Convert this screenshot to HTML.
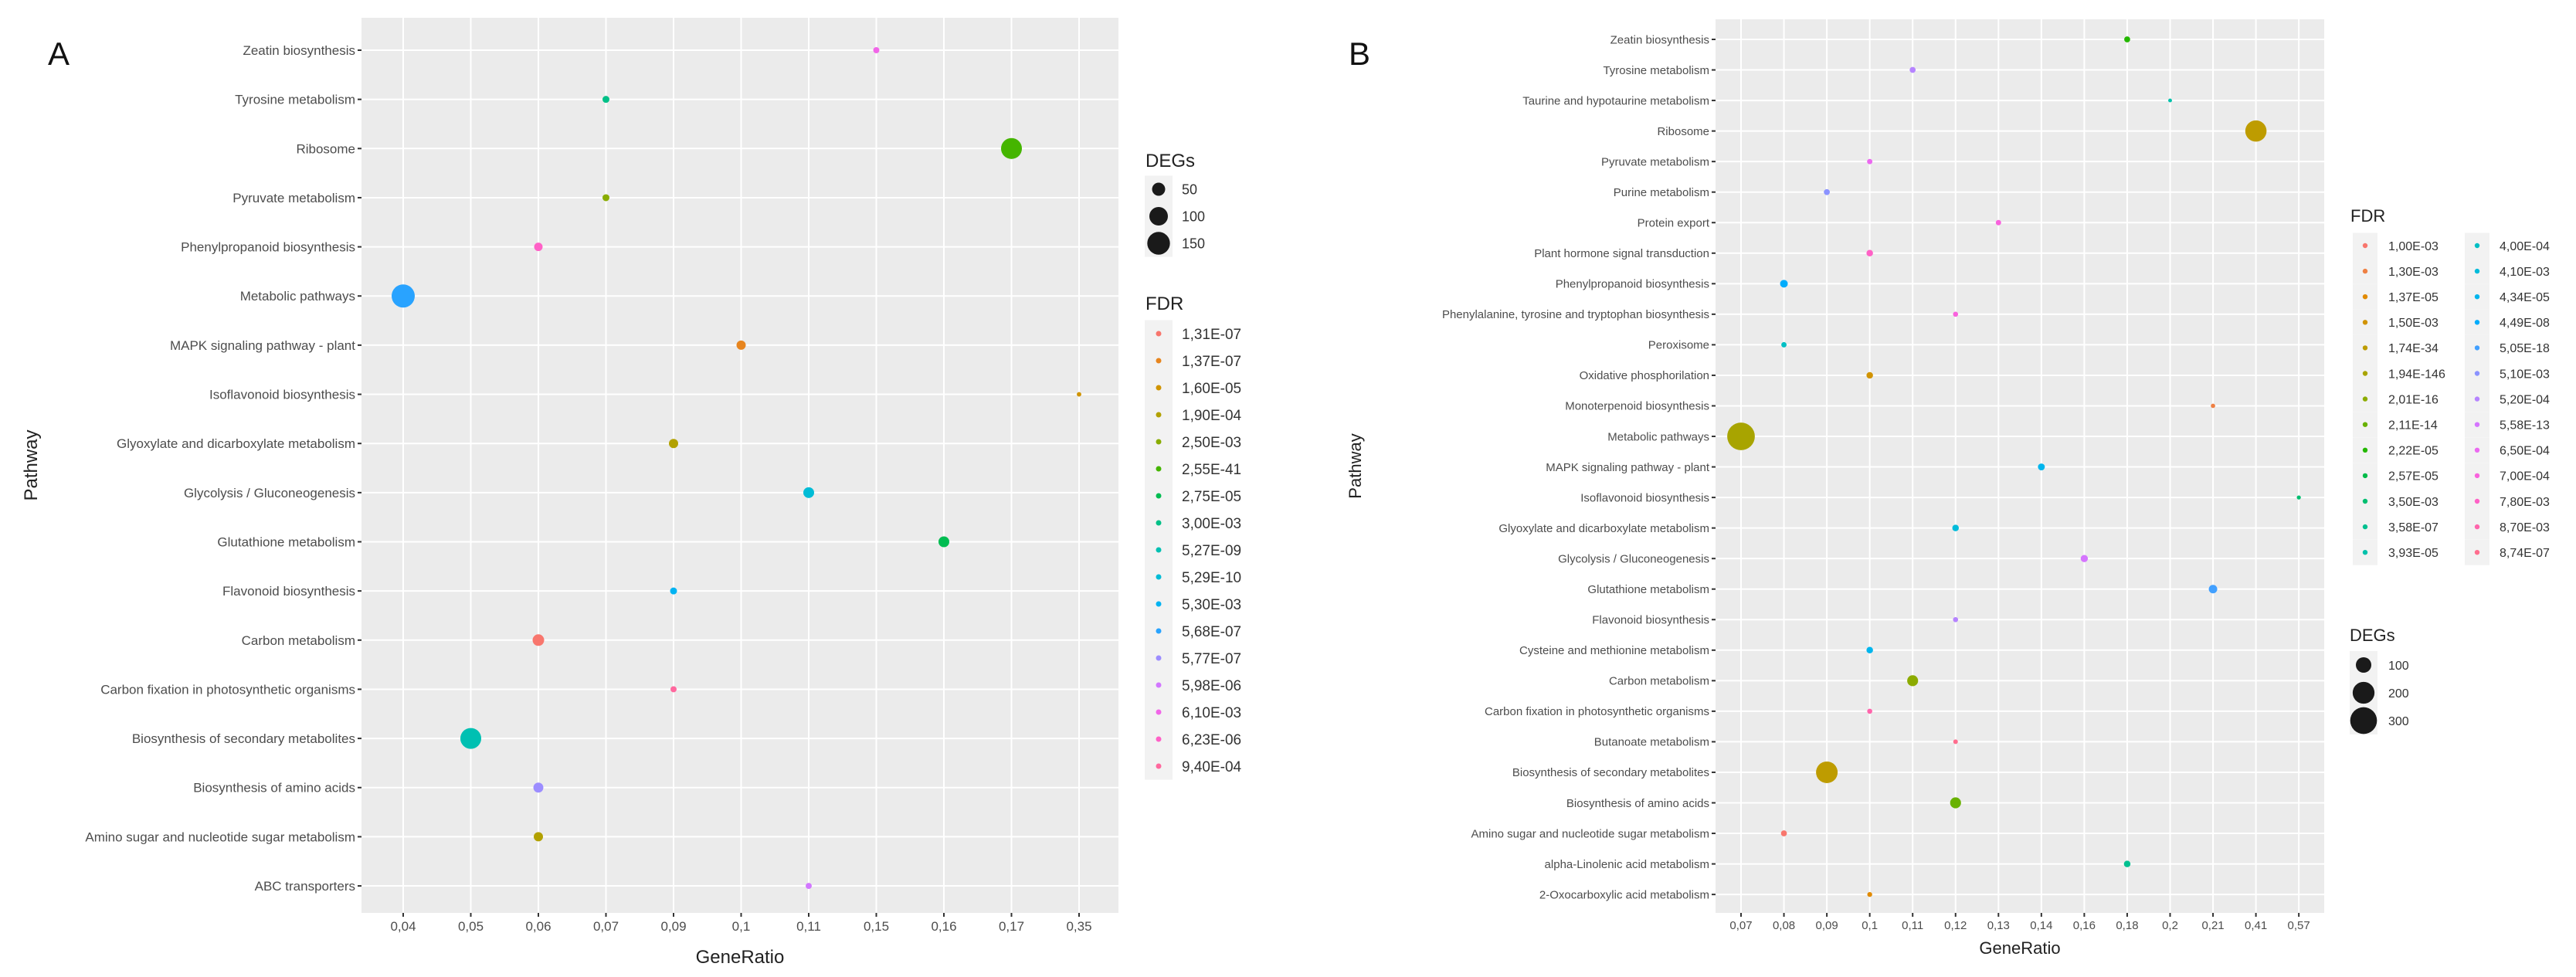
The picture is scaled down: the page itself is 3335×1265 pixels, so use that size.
<!DOCTYPE html>
<html><head><meta charset="utf-8"><style>
html,body{margin:0;padding:0;background:#fff;}
svg{display:block;font-family:"Liberation Sans",Arial,sans-serif;}
</style></head><body>
<svg id="fig" width="3335" height="1265" viewBox="0 0 3335 1265" xmlns="http://www.w3.org/2000/svg">
<rect width="3335" height="1265" fill="#fff"/>
<text x="62" y="84" font-size="42" fill="#111">A</text>
<text x="1746" y="84" font-size="42" fill="#111">B</text>
</svg>
<script>
// ===== Panel A data =====
const catsA = ["Zeatin biosynthesis","Tyrosine metabolism","Ribosome","Pyruvate metabolism","Phenylpropanoid biosynthesis","Metabolic pathways","MAPK signaling pathway - plant","Isoflavonoid biosynthesis","Glyoxylate and dicarboxylate metabolism","Glycolysis / Gluconeogenesis","Glutathione metabolism","Flavonoid biosynthesis","Carbon metabolism","Carbon fixation in photosynthetic organisms","Biosynthesis of secondary metabolites","Biosynthesis of amino acids","Amino sugar and nucleotide sugar metabolism","ABC transporters"];
const xTicksA = ["0,04","0,05","0,06","0,07","0,09","0,1","0,11","0,15","0,16","0,17","0,35"];
const ratioA = ["0,15","0,07","0,17","0,07","0,06","0,04","0,1","0,35","0,09","0,11","0,16","0,09","0,06","0,09","0,05","0,06","0,06","0,11"];
const degsA = [11,14,127,14,21,156,25,6,25,34,34,14,39,11,127,29,25,11];
const fdrLevelsA = ["1,31E-07","1,37E-07","1,60E-05","1,90E-04","2,50E-03","2,55E-41","2,75E-05","3,00E-03","5,27E-09","5,29E-10","5,30E-03","5,68E-07","5,77E-07","5,98E-06","6,10E-03","6,23E-06","9,40E-04"];
const fdrA = ["6,10E-03","3,00E-03","2,55E-41","2,50E-03","6,23E-06","5,68E-07","1,37E-07","1,60E-05","1,90E-04","5,29E-10","2,75E-05","5,30E-03","1,31E-07","9,40E-04","5,27E-09","5,77E-07","1,90E-04","5,98E-06"];
const degBreaksA = [50,100,150];

// ===== Panel B data =====
const catsB = ["Zeatin biosynthesis","Tyrosine metabolism","Taurine and hypotaurine metabolism","Ribosome","Pyruvate metabolism","Purine metabolism","Protein export","Plant hormone signal transduction","Phenylpropanoid biosynthesis","Phenylalanine, tyrosine and tryptophan biosynthesis","Peroxisome","Oxidative phosphorilation","Monoterpenoid biosynthesis","Metabolic pathways","MAPK signaling pathway - plant","Isoflavonoid biosynthesis","Glyoxylate and dicarboxylate metabolism","Glycolysis / Gluconeogenesis","Glutathione metabolism","Flavonoid biosynthesis","Cysteine and methionine metabolism","Carbon metabolism","Carbon fixation in photosynthetic organisms","Butanoate metabolism","Biosynthesis of secondary metabolites","Biosynthesis of amino acids","Amino sugar and nucleotide sugar metabolism","alpha-Linolenic acid metabolism","2-Oxocarboxylic acid metabolism"];
const xTicksB = ["0,07","0,08","0,09","0,1","0,11","0,12","0,13","0,14","0,16","0,18","0,2","0,21","0,41","0,57"];
const ratioB = ["0,18","0,11","0,2","0,41","0,1","0,09","0,13","0,1","0,08","0,12","0,08","0,1","0,21","0,07","0,14","0,57","0,12","0,16","0,21","0,12","0,1","0,11","0,1","0,12","0,09","0,12","0,08","0,18","0,1"];
const degsB = [15,15,6,190,12,15,12,18,25,11,12,18,8,320,20,7,18,22,30,11,18,50,11,9,196,50,15,18,10];
const fdrLevelsB = ["1,00E-03","1,30E-03","1,37E-05","1,50E-03","1,74E-34","1,94E-146","2,01E-16","2,11E-14","2,22E-05","2,57E-05","3,50E-03","3,58E-07","3,93E-05","4,00E-04","4,10E-03","4,34E-05","4,49E-08","5,05E-18","5,10E-03","5,20E-04","5,58E-13","6,50E-04","7,00E-04","7,80E-03","8,70E-03","8,74E-07"];
const fdrB = ["2,22E-05","5,20E-04","3,93E-05","1,74E-34","6,50E-04","5,10E-03","7,00E-04","7,80E-03","4,49E-08","7,00E-04","4,00E-04","1,50E-03","1,30E-03","1,94E-146","4,34E-05","3,50E-03","4,10E-03","5,58E-13","5,05E-18","5,20E-04","4,34E-05","2,01E-16","8,70E-03","8,74E-07","1,74E-34","2,11E-14","1,00E-03","3,58E-07","1,37E-05"];
const degBreaksB = [100,200,300];

const NS = "http://www.w3.org/2000/svg";
const svg = document.getElementById("fig");
function mk(tag, attrs, parent) {
  const e = document.createElementNS(NS, tag);
  for (const k in attrs) e.setAttribute(k, attrs[k]);
  (parent || svg).appendChild(e);
  return e;
}
function hcl(h, c, l) {
  const hr = h * Math.PI / 180;
  const u = c * Math.cos(hr), v = c * Math.sin(hr);
  const Y = l > 8 ? Math.pow((l + 16) / 116, 3) : l / 903.3;
  const un = 0.1978398, vn = 0.4683363;
  const up = u / (13 * l) + un, vp = v / (13 * l) + vn;
  const X = Y * 9 * up / (4 * vp), Z = Y * (12 - 3 * up - 20 * vp) / (4 * vp);
  let r = 3.2404542 * X - 1.5371385 * Y - 0.4985314 * Z;
  let g = -0.9692660 * X + 1.8760108 * Y + 0.0415560 * Z;
  let b = 0.0556434 * X - 0.2040259 * Y + 1.0572252 * Z;
  const gm = t => { t = t <= 0.0031308 ? 12.92 * t : 1.055 * Math.pow(t, 1 / 2.4) - 0.055; return Math.round(Math.max(0, Math.min(1, t)) * 255); };
  return "rgb(" + gm(r) + "," + gm(g) + "," + gm(b) + ")";
}
function palette(n) { const out = []; for (let i = 0; i < n; i++) out.push(hcl(15 + 360 * i / n, 100, 65)); return out; }

function drawPanel(cfg) {
  const { id, cats, xTicks, ratio, degs, fdr, fdrLevels, left, right, top, bottom, firstY, stepY, x0, stepX, tickFont, yFont, titleFont, sizeK } = cfg;
  const cols = palette(fdrLevels.length);
  const g = mk("g", {});
  
  
  const bg = mk("rect", { x: left, y: top, width: right - left, height: bottom - top, fill: "#EBEBEB" }, g);
  
  
  const xs = i => x0 + i * stepX;
  const ys = i => firstY + i * stepY;
  xTicks.forEach((t, i) => {
    const gl = mk("line", { x1: xs(i), x2: xs(i), y1: top, y2: bottom, stroke: "#fff", "stroke-width": 2 }, g);
    
    
    mk("line", { x1: xs(i), x2: xs(i), y1: bottom, y2: bottom + 5, stroke: "#333", "stroke-width": 2 }, g);
    const tl = mk("text", { x: xs(i), y: bottom + 6 + tickFont, "font-size": tickFont, fill: "#4D4D4D", "text-anchor": "middle" }, g);
    tl.textContent = t;
    
    
  });
  cats.forEach((c, i) => {
    const gl = mk("line", { x1: left, x2: right, y1: ys(i), y2: ys(i), stroke: "#fff", "stroke-width": 2 }, g);
    
    
    mk("line", { x1: left - 5, x2: left, y1: ys(i), y2: ys(i), stroke: "#333", "stroke-width": 2 }, g);
    const tl = mk("text", { x: left - 8, y: ys(i) + yFont * 0.35, "font-size": yFont, fill: "#4D4D4D", "text-anchor": "end" }, g);
    tl.textContent = c;
    
    
  });
  cats.forEach((c, i) => {
    const xi = xTicks.indexOf(ratio[i]);
    const col = cols[fdrLevels.indexOf(fdr[i])];
    const p = mk("circle", { cx: xs(xi), cy: ys(i), r: sizeK * Math.sqrt(degs[i]) / 2, fill: col }, g);
    
    
  });
  const xt = mk("text", { x: (left + right) / 2, y: cfg.xTitleY, "font-size": titleFont, fill: "#222", "text-anchor": "middle" }, g);
  xt.textContent = "GeneRatio";
  
  
  const yt = mk("text", { x: 0, y: 0, "font-size": titleFont, fill: "#222", "text-anchor": "middle", transform: "translate(" + cfg.yTitleX + "," + (top + bottom) / 2 + ") rotate(-90)" }, g);
  yt.textContent = "Pathway";
  
  
  return cols;
}

function legendTitle(x, y, txt, fs, name) {
  const t = mk("text", { x: x, y: y, "font-size": fs, fill: "#222" });
  t.textContent = txt;
  
  
}
function legendEntry(kx, ky, lx, r, col, label, fs, bgW, bgH, name) {
  mk("rect", { x: kx - bgW / 2, y: ky - bgH / 2, width: bgW, height: bgH, fill: "#F2F2F2" });
  const c = mk("circle", { cx: kx, cy: ky, r: r, fill: col });
  
  
  const t = mk("text", { x: lx, y: ky + fs * 0.36, "font-size": fs, fill: "#333" });
  t.textContent = label;
  
  
}

// Panel A
const colsA = drawPanel({ id: "a", cats: catsA, xTicks: xTicksA, ratio: ratioA, degs: degsA, fdr: fdrA, fdrLevels: fdrLevelsA,
  left: 468, right: 1448, top: 23, bottom: 1182, firstY: 65, stepY: 63.65, x0: 522, stepX: 87.5,
  tickFont: 17, yFont: 17, titleFont: 24, sizeK: 2.4, xTitleY: 1247, yTitleX: 48 });
legendTitle(1483, 216, "DEGs", 24, "a-size-legend-title");
degBreaksA.forEach((d, i) => {
  legendEntry(1500, 245 + i * 35, 1530, 2.4 * Math.sqrt(d) / 2, "#1a1a1a", String(d), 18, 36, 35, "a-size-legend-entry");
});
legendTitle(1483, 401, "FDR", 24, "a-fdr-legend-title");
fdrLevelsA.forEach((f, i) => {
  legendEntry(1500, 432 + i * 35, 1530, 3.5, colsA[i], f, 19, 36, 35, "a-fdr-legend-entry");
});

// Panel B
const colsB = drawPanel({ id: "b", cats: catsB, xTicks: xTicksB, ratio: ratioB, degs: degsB, fdr: fdrB, fdrLevels: fdrLevelsB,
  left: 2221, right: 3009, top: 25, bottom: 1182, firstY: 51, stepY: 39.54, x0: 2254, stepX: 55.55,
  tickFont: 15, yFont: 15, titleFont: 22, sizeK: 2.0, xTitleY: 1235, yTitleX: 1762 });
legendTitle(3043, 287, "FDR", 22, "b-fdr-legend-title");
fdrLevelsB.forEach((f, i) => {
  const col = Math.floor(i / 13), row = i % 13;
  legendEntry(col ? 3207 : 3062, 318 + row * 33.1, col ? 3236 : 3092, 3.2, colsB[i], f, 16, 32, 33.1, "b-fdr-legend-entry");
});
legendTitle(3042, 830, "DEGs", 22, "b-size-legend-title");
degBreaksB.forEach((d, i) => {
  legendEntry(3060, 861 + i * 36, 3092, 2.0 * Math.sqrt(d) / 2, "#1a1a1a", String(d), 16, 36, 36, "b-size-legend-entry");
});
</script>
</body></html>
